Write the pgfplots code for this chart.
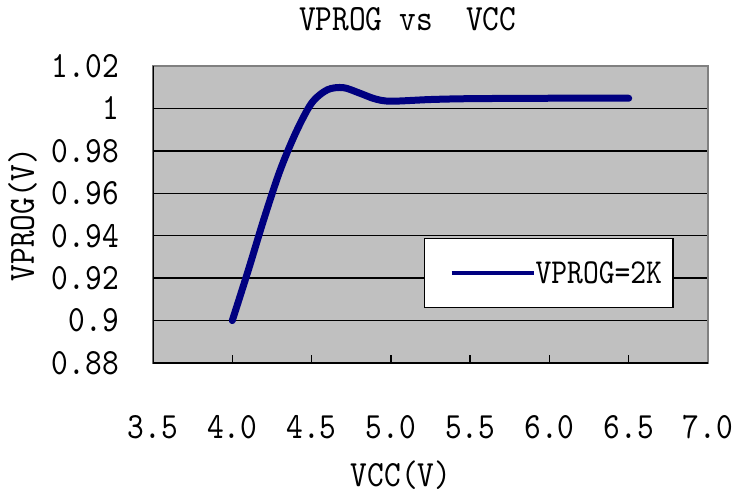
\documentclass[border=0pt]{standalone}
\usepackage{fontspec}
\setmainfont{lmmono10-regular.otf}[FakeStretch=0.86]
\usepackage{pgfplots}
\usepackage{pgfplotstable}
\pgfplotsset{compat=1.18}

\definecolor{plotbg}{HTML}{C0C0C0}
\definecolor{navy}{HTML}{000080}
\definecolor{frame}{HTML}{808080}
\newcommand\bigf{\fontsize{37}{40}\selectfont}
\newcommand\legf{\fontsize{35}{38}\selectfont}

% VPROG vs VCC, VPROG=2K
\pgfplotstableread{
vcc vprog
4.00 0.9000
4.10 0.9235
4.20 0.9480
4.30 0.9705
4.40 0.9885
4.50 1.0025
4.60 1.0088
4.70 1.0098
4.80 1.0073
4.90 1.0045
5.00 1.0034
5.25 1.0042
5.50 1.0046
6.00 1.0048
6.50 1.0048
}\vprogdata

\begin{document}
\begin{tikzpicture}
\useasboundingbox (0pt,0pt) rectangle (733pt,498pt);
\begin{axis}[
  at={(153pt,135pt)}, anchor=south west,
  width=555pt, height=297pt, scale only axis,
  xmin=3.5, xmax=7, ymin=0.88, ymax=1.02,
  xtick={3.5,4,4.5,5,5.5,6,6.5,7},
  ytick={0.88,0.9,0.92,0.94,0.96,0.98,1,1.02},
  /pgf/number format/assume math mode=true,
  tick label style={font=\bigf},
  xticklabel style={anchor=base, yshift=-75pt,
    /pgf/number format/fixed, /pgf/number format/fixed zerofill,
    /pgf/number format/precision=1},
  yticklabel style={anchor=east, inner sep=0pt, xshift=-34pt},
  xtick pos=lower, ytick pos=left, tick align=inside,
  major tick length=8pt, tick style={black, line width=1.5pt},
  axis background/.style={fill=plotbg},
  axis line style={draw=frame, line width=2pt},
  ymajorgrids, grid style={black, line width=1.5pt},
  title={VPROG vs\ \ VCC},
  title style={at={(axis description cs:0.459,1.098)}, anchor=base, font=\bigf},
  xlabel={VCC(V)},
  xlabel style={at={(axis description cs:0.447,-0.4175)}, anchor=base, font=\bigf},
  ylabel={VPROG(V)},
  ylabel style={at={(axis description cs:-0.235,0.5)}, anchor=center, font=\bigf},
  legend style={at={(axis description cs:0.488,0.422)}, anchor=north west,
    draw=black, line width=1.5pt, fill=white, font=\legf,
    inner xsep=11pt, inner ysep=23pt, nodes={inner sep=0pt},
    /tikz/every even column/.append style={column sep=7pt}},
  legend image code/.code={
    \path[draw=none] (0pt,0pt) -- (16pt,0pt);
    \draw[#1, line width=4pt, line cap=butt] (16pt,0pt) -- (98pt,0pt);},
]
\addplot[navy, line width=7pt, line cap=round, line join=round, smooth]
  table[x=vcc, y=vprog] {\vprogdata};
\addlegendentry{VPROG=2K}
\draw[black, line width=2pt] (rel axis cs:0,1) -- (rel axis cs:0,0) -- (rel axis cs:1,0);
\end{axis}
\end{tikzpicture}
\end{document}
